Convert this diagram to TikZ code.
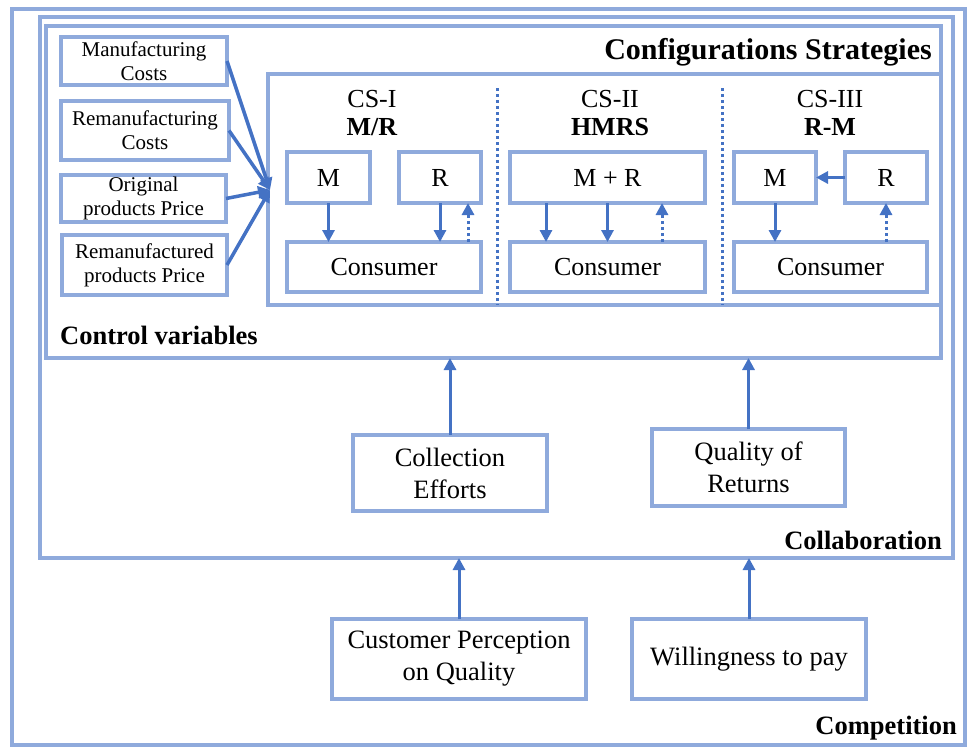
\documentclass[tikz,border=0pt]{standalone}
\usepackage{fontspec}
\setmainfont{Liberation Serif}
\usetikzlibrary{arrows.meta}
\definecolor{frame}{HTML}{8FAADC}
\definecolor{arr}{HTML}{4472C4}
\begin{document}
\begin{tikzpicture}[x=1pt,y=-1pt,
  frm/.style={draw=frame, line width=3.5pt, inner sep=0pt, outer sep=0pt, rectangle},
  bx/.style={frm, align=center},
  sm/.style={font=\fontsize{21}{24}\selectfont},
  md/.style={font=\fontsize{26}{30}\selectfont},
  lg/.style={font=\fontsize{26.5}{32}\selectfont},
  lab/.style={font=\fontsize{26.5}{30}\selectfont\bfseries, inner sep=0pt},
  hdr/.style={font=\fontsize{26}{28}\selectfont, align=center, inner sep=0pt},
  arw/.style={draw=arr, line width=3pt, -{Triangle[length=12pt,width=12pt]}},
  dotarw/.style={arw, dash pattern=on 3pt off 3pt},
  divider/.style={draw=arr, line width=3pt, dash pattern=on 3pt off 3pt}]
\useasboundingbox (0,0) rectangle (968,747);
% frames
\node[frm, minimum width=953pt, minimum height=736pt] (comp) at (488.5,377) {};
\node[frm, minimum width=913pt, minimum height=541pt] (collab) at (496.5,287.5) {};
\node[frm, minimum width=895pt, minimum height=332pt] (ctrl) at (493.5,192) {};
\node[frm, minimum width=673pt, minimum height=231pt] (cs) at (604.5,189.5) {};
% labels
\node[lab, font=\fontsize{30}{32}\selectfont\bfseries] (lcs) at (768,52) {Configurations Strategies};
\node[lab, anchor=west] (lctrl) at (60,335) {Control variables};
\node[lab, anchor=east] (lcol) at (942,540) {Collaboration};
\node[lab, anchor=east] (lcomp) at (957,728) {Competition};
% control variables
\node[bx, sm, minimum width=166pt, minimum height=48pt] (mc) at (144,61) {Manufacturing\\Costs};
\node[bx, sm, minimum width=168pt, minimum height=59pt] (rc) at (145,130.5) {Remanufacturing\\Costs};
\node[bx, sm, minimum width=165pt, minimum height=47pt] (op) at (143.5,198.5) {Original\\products Price};
\node[bx, sm, minimum width=165pt, minimum height=60pt] (rp) at (144.5,265) {Remanufactured\\products Price};
\coordinate (conv) at (270,190);
\draw[arw, line width=3.5pt] (mc.east) -- (conv);
\draw[arw, line width=3.5pt] (rc.east) -- (conv);
\draw[arw, line width=3.5pt] (op.east) -- (conv);
\draw[arw, line width=3.5pt] (rp.east) -- (conv);
% CS-I
\node[hdr] (h1) at (372,113) {CS-I\\\textbf{M/R}};
\node[bx, md, minimum width=83pt, minimum height=51pt] (m1) at (328.5,177.5) {M};
\node[bx, md, minimum width=82pt, minimum height=51pt] (r1) at (440,177.5) {R};
\node[bx, md, minimum width=194pt, minimum height=50pt] (c1) at (384,267) {Consumer};
\draw[arw] (m1.south) -- (m1.south |- c1.north);
\draw[arw] (r1.south) -- (r1.south |- c1.north);
\draw[dotarw] (c1.north -| 468,0) -- (r1.south -| 468,0);
\coordinate (d1t) at (497,88);
\coordinate (d1b) at (497,305);
\draw[divider] (d1t) -- (d1b);
% CS-II
\node[hdr] (h2) at (610,113) {CS-II\\\textbf{HMRS}};
\node[bx, md, minimum width=195pt, minimum height=51pt] (mr2) at (607.5,177.5) {M + R};
\node[bx, md, minimum width=195pt, minimum height=50pt] (c2) at (607.5,267) {Consumer};
\draw[arw] (mr2.south -| 546,0) -- (c2.north -| 546,0);
\draw[arw] (mr2.south) -- (c2.north);
\draw[dotarw] (c2.north -| 662,0) -- (mr2.south -| 662,0);
\coordinate (d2t) at (722,88);
\coordinate (d2b) at (722,305);
\draw[divider] (d2t) -- (d2b);
% CS-III
\node[hdr] (h3) at (830,113) {CS-III\\\textbf{R-M}};
\node[bx, md, minimum width=82pt, minimum height=51pt] (m3) at (775,177.5) {M};
\node[bx, md, minimum width=82pt, minimum height=51pt] (r3) at (886,177.5) {R};
\node[bx, md, minimum width=193pt, minimum height=50pt] (c3) at (830.5,267) {Consumer};
\draw[arw] (r3.west) -- (m3.east);
\draw[arw] (m3.south) -- (m3.south |- c3.north);
\draw[dotarw] (c3.north -| r3.south) -- (r3.south);
% collaboration
\node[bx, lg, minimum width=194pt, minimum height=76pt] (ce) at (450,473) {Collection\\Efforts};
\node[bx, lg, minimum width=193pt, minimum height=77pt] (qr) at (748.5,467.5) {Quality of\\Returns};
\draw[arw] (ce.north) -- (ce.north |- ctrl.south);
\draw[arw] (qr.north) -- (qr.north |- ctrl.south);
% competition
\node[bx, lg, minimum width=254pt, minimum height=80pt] (cp) at (459,659) {Customer Perception\\on Quality};
\node[bx, lg, minimum width=234pt, minimum height=80pt] (wp) at (749,659) {Willingness to pay};
\draw[arw] (cp.north) -- (cp.north |- collab.south);
\draw[arw] (wp.north) -- (wp.north |- collab.south);
\end{tikzpicture}
\end{document}
